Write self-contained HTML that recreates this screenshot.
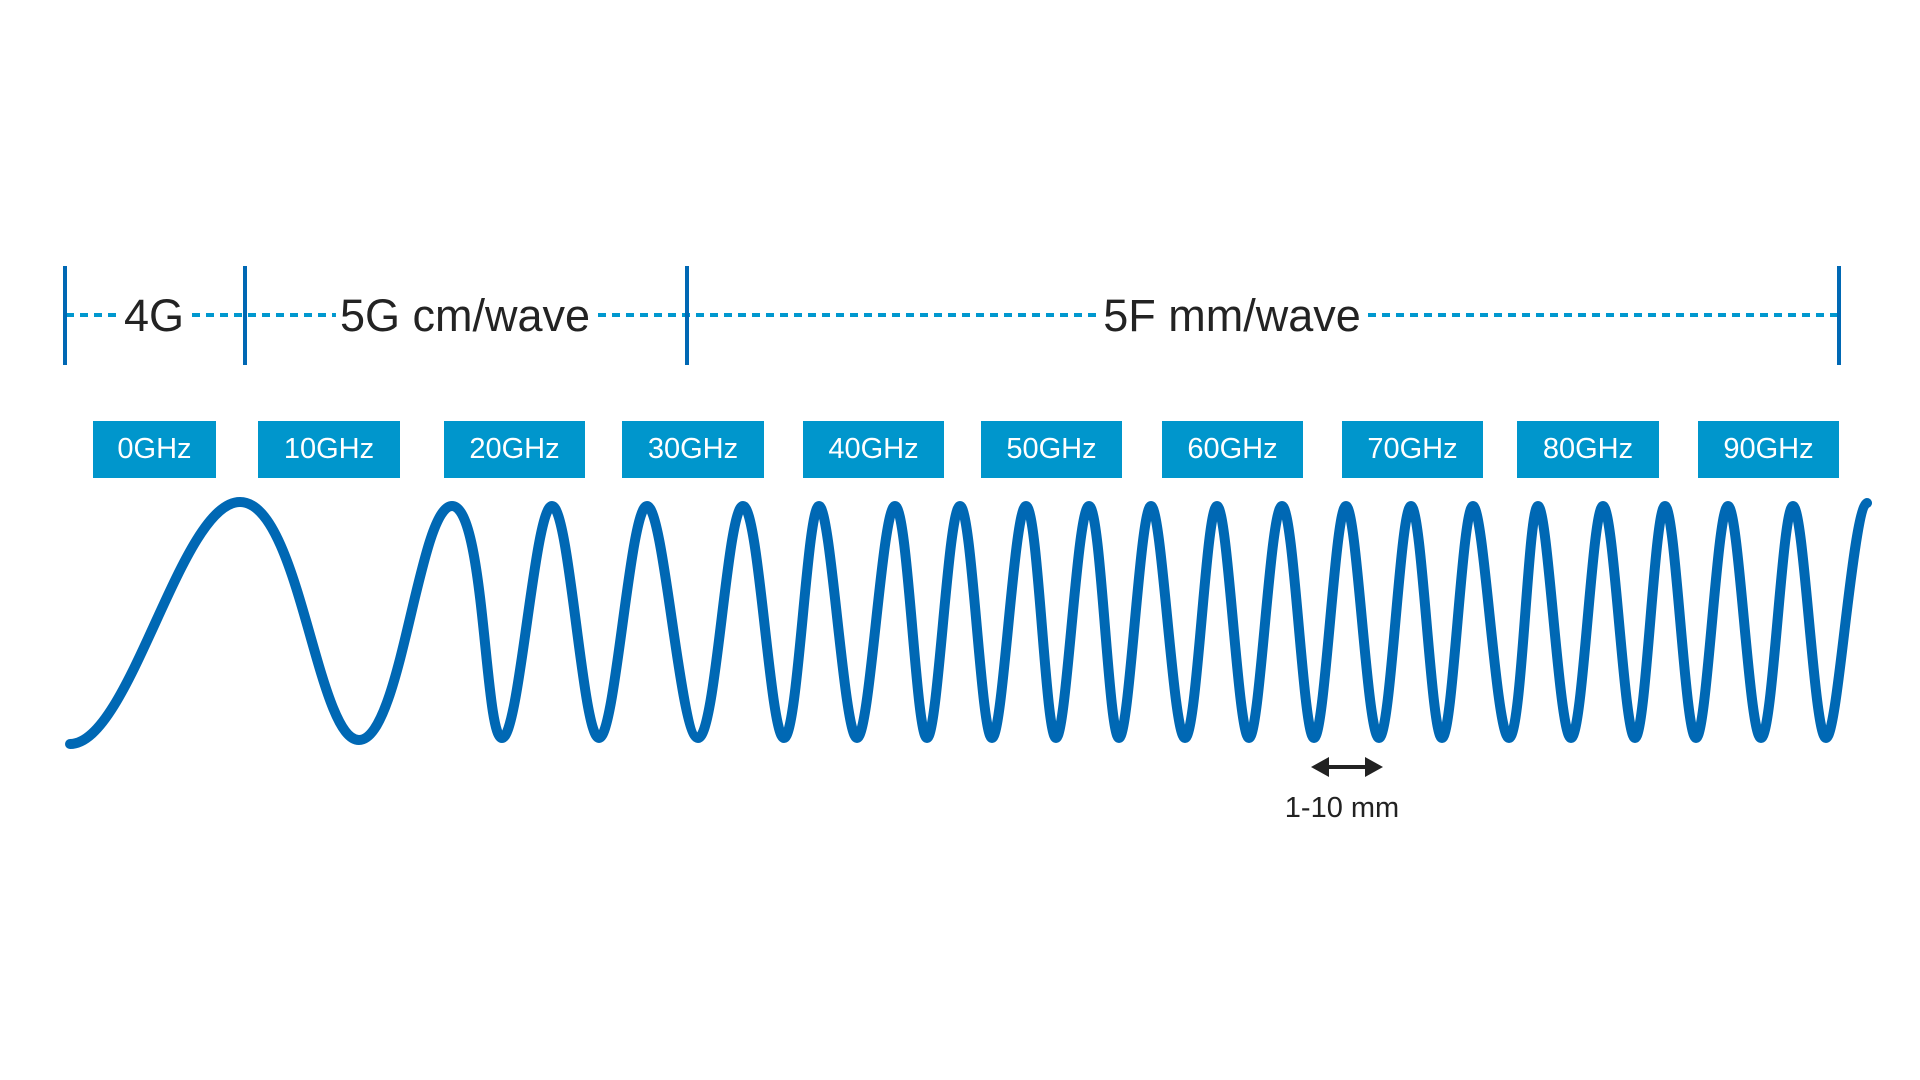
<!DOCTYPE html>
<html><head><meta charset="utf-8"><style>
html,body{margin:0;padding:0;background:#fff;}
body{width:1920px;height:1080px;overflow:hidden;position:relative;font-family:"Liberation Sans",sans-serif;}
.bar{position:absolute;top:266px;width:4px;height:99px;background:#0068b4;}
.lbl{position:absolute;top:290px;height:52px;line-height:52px;font-size:45px;color:#232323;background:#fff;text-align:center;padding:0 4px;transform:translateX(-50%);white-space:nowrap;}
.box{position:absolute;top:421px;height:57px;background:#0096cc;color:#fff;font-size:29px;line-height:57px;text-align:center;}
</style></head><body>
<svg width="1920" height="1080" style="position:absolute;left:0;top:0">
<line x1="66" y1="315" x2="1839" y2="315" stroke="#0098cf" stroke-width="4" stroke-dasharray="8 6"/>
<path fill="none" stroke="#0068b4" stroke-width="10" stroke-linecap="round" stroke-linejoin="round" d="M70 744 C130 744 180.5 502 240 502 S317 740 359 740 S419 506 452 506 S484.5 738 502 738 S534.5 506 552 506 S582.5 738 599 738 S630 506 647 506 S680 738 698 738 S727 506 743 506 S770 738 784 738 S807 506 819 506 S844 738 857 738 S882 506 895 506 S916 738 927 738 S948 506 960 506 S981 738 992 738 S1014 506 1026 506 S1045.5 738 1056 738 S1077 506 1089 506 S1108.5 738 1119 738 S1140 506 1151 506 S1173 738 1185 738 S1206 506 1217 506 S1238 738 1249 738 S1270 506 1282 506 S1303 738 1314 738 S1335 506 1346 506 S1367 738 1379 738 S1400 506 1411 506 S1431 738 1442 738 S1462 506 1473 506 S1496 738 1509 738 S1528 506 1538 506 S1559 738 1571 738 S1592 506 1603 506 S1624 738 1635 738 S1654.5 506 1665 506 S1685 738 1696 738 S1717 506 1728 506 S1749 738 1761 738 S1782 506 1793 506 S1814 738 1826 738 S1852 510 1867 503"/>
<line x1="1325" y1="767" x2="1370" y2="767" stroke="#222" stroke-width="4"/>
<polygon points="1311,767 1329,757 1329,777" fill="#222"/>
<polygon points="1383,767 1365,757 1365,777" fill="#222"/>
</svg>
<div class="bar" style="left:63px"></div>
<div class="bar" style="left:243px"></div>
<div class="bar" style="left:685px"></div>
<div class="bar" style="left:1837px"></div>
<div class="lbl" style="left:154px">4G</div>
<div class="lbl" style="left:465px">5G cm/wave</div>
<div class="lbl" style="left:1232px">5F mm/wave</div>
<div class="box" style="left:93px;width:123px">0GHz</div>
<div class="box" style="left:258px;width:142px">10GHz</div>
<div class="box" style="left:444px;width:141px">20GHz</div>
<div class="box" style="left:622px;width:142px">30GHz</div>
<div class="box" style="left:803px;width:141px">40GHz</div>
<div class="box" style="left:981px;width:141px">50GHz</div>
<div class="box" style="left:1162px;width:141px">60GHz</div>
<div class="box" style="left:1342px;width:141px">70GHz</div>
<div class="box" style="left:1517px;width:142px">80GHz</div>
<div class="box" style="left:1698px;width:141px">90GHz</div>
<div style="position:absolute;left:1342px;top:790px;transform:translateX(-50%);font-size:29px;color:#222;white-space:nowrap;line-height:36px">1-10 mm</div>
</body></html>
